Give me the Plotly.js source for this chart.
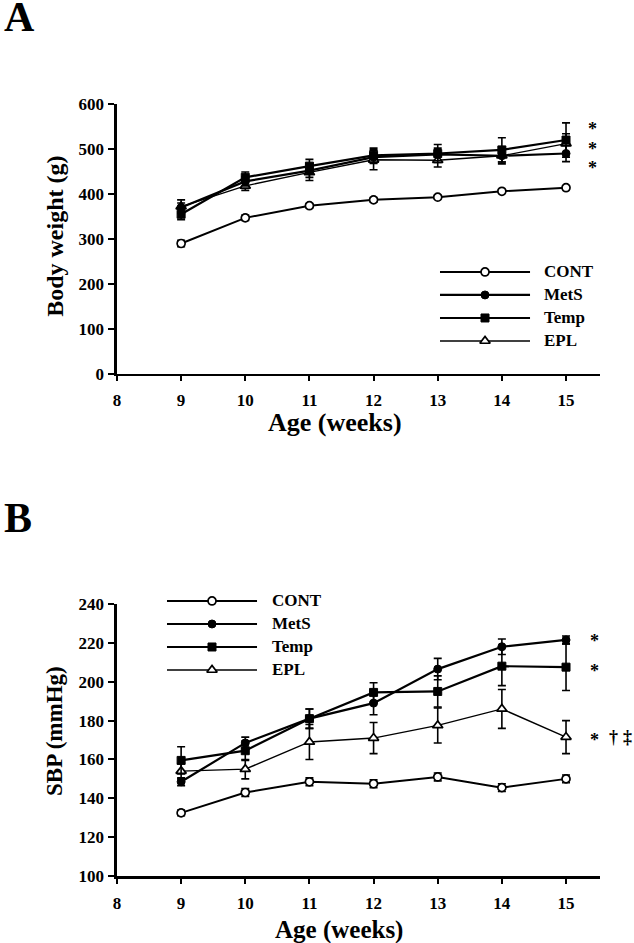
<!DOCTYPE html>
<html>
<head>
<meta charset="utf-8">
<script src="https://cdn.plot.ly/plotly-3.0.1.min.js"></script>
<style>
  html, body { margin: 0; padding: 0; background: #fff; }
  #plot { width: 634px; height: 943px; }
</style>
</head>
<body>
<div id="plot"></div>
<script>
// semanas de edad
var weeks = [9, 10, 11, 12, 13, 14, 15];
var xTicks = [8, 9, 10, 11, 12, 13, 14, 15];
var bwTicks = [0, 100, 200, 300, 400, 500, 600];
var sbpTicks = [100, 120, 140, 160, 180, 200, 220, 240];

// Panel A: peso corporal (g)
var bwCont = [290, 347, 374, 387, 393, 406, 414];
var bwContErr = [7, 6, 5, 5, 4, 4, 4];
var bwMets = [370, 428, 452, 482, 488, 485, 490];
var bwMetsErr = [10, 10, 15, 14, 14, 14, 18];
var bwTemp = [355, 437, 462, 486, 490, 498, 520];
var bwTempErr = [12, 12, 15, 16, 20, 27, 38];
var bwEpl = [372, 418, 448, 476, 475, 485, 512];
var bwEplErr = [15, 10, 18, 22, 15, 18, 22];

// Panel B: SBP (mmHg)
var sbpCont = [132.5, 143, 148.5, 147.5, 151, 145.5, 150];
var sbpContErr = [1.5, 2, 2, 2, 2, 2, 2];
var sbpMets = [148.5, 168.5, 181, 189, 206.5, 218, 221.5];
var sbpMetsErr = [2, 3, 5, 6, 5.5, 4, 2];
var sbpTemp = [159.5, 164.5, 181, 194.5, 195, 208, 207.5];
var sbpTempErr = [7, 5, 5, 5, 8, 10, 12];
var sbpEpl = [154, 155, 169, 171, 177.5, 186, 171.5];
var sbpEplErr = [4, 5, 9, 8, 9, 10, 8.5];

var groups = ['CONT', 'MetS', 'Temp', 'EPL'];
var legendRows = [0, 1, 2, 3];
var legendX = [0, 0.5, 1];

var FONT = 'Liberation Serif, Times New Roman, serif';

var estilos = {
    CONT: { marker: { symbol: 'circle', size: 8, color: '#fff', line: { color: '#000', width: 1.7 } }, line: { color: '#000', width: 2 } },
    MetS: { marker: { symbol: 'circle', size: 8, color: '#000', line: { color: '#000', width: 1 } }, line: { color: '#000', width: 2.2 } },
    Temp: { marker: { symbol: 'square', size: 8, color: '#000', line: { color: '#000', width: 1 } }, line: { color: '#000', width: 2.2 } },
    EPL:  { marker: { symbol: 'triangle-up', size: 9, color: '#fff', line: { color: '#000', width: 1.7 } }, line: { color: '#000', width: 1.4 } }
};

function serie(nombre, y, err, xa, ya) {
    return {
        x: weeks, y: y, name: nombre, type: 'scatter', mode: 'lines+markers',
        xaxis: xa, yaxis: ya, showlegend: false, cliponaxis: false,
        line: estilos[nombre].line, marker: estilos[nombre].marker,
        error_y: { type: 'data', array: err, visible: true, color: '#000', thickness: 1.6, width: 4 }
    };
}

// muestra de leyenda: linea + marcador central
function leyenda(nombre, fila, xa, ya) {
    return [{
        x: legendX, y: [fila, fila, fila], type: 'scatter', mode: 'lines',
        xaxis: xa, yaxis: ya, showlegend: false, hoverinfo: 'skip',
        line: estilos[nombre].line
    }, {
        x: [legendX[1]], y: [fila], type: 'scatter', mode: 'markers',
        xaxis: xa, yaxis: ya, showlegend: false, hoverinfo: 'skip',
        marker: estilos[nombre].marker
    }];
}

var data = [
    serie('EPL', bwEpl, bwEplErr, 'x', 'y'),
    serie('MetS', bwMets, bwMetsErr, 'x', 'y'),
    serie('Temp', bwTemp, bwTempErr, 'x', 'y'),
    serie('CONT', bwCont, bwContErr, 'x', 'y'),
    serie('EPL', sbpEpl, sbpEplErr, 'x2', 'y2'),
    serie('MetS', sbpMets, sbpMetsErr, 'x2', 'y2'),
    serie('Temp', sbpTemp, sbpTempErr, 'x2', 'y2'),
    serie('CONT', sbpCont, sbpContErr, 'x2', 'y2')
];
groups.forEach(function (g, i) {
    data = data.concat(leyenda(g, legendRows[i], 'x3', 'y3'));
    data = data.concat(leyenda(g, legendRows[i], 'x4', 'y4'));
});

var tickFont = { family: FONT, size: 17, color: '#000', weight: 'bold' };
var negrita = function (v) { return '<b>' + v + '</b>'; };

function ejeX(anchor, standoff) {
    return {
        domain: [0.1845, 0.9464], range: [8, 15.53], anchor: anchor,
        tickvals: xTicks, ticktext: xTicks.map(negrita),
        showline: true, linecolor: '#000', linewidth: 2.5,
        ticks: 'outside', ticklen: 5, tickwidth: 2, tickcolor: '#000',
        ticklabelstandoff: standoff,
        showgrid: false, zeroline: false, tickfont: tickFont, fixedrange: true
    };
}
function ejeY(anchor, dominio, rango, valores) {
    return {
        domain: dominio, range: rango, anchor: anchor,
        tickvals: valores, ticktext: valores.map(negrita),
        showline: true, linecolor: '#000', linewidth: 2.5,
        ticks: 'outside', ticklen: 6, tickwidth: 2, tickcolor: '#000',
        ticklabelstandoff: 1,
        showgrid: false, zeroline: false, tickfont: tickFont, fixedrange: true
    };
}
var oculto = function (dominio, rango) {
    return { domain: dominio, range: rango, visible: false, fixedrange: true };
};

var annotations = [];
function texto(t, x, y, xref, yref, size, extra) {
    annotations.push(Object.assign({
        text: t, x: x, y: y, xref: xref, yref: yref, showarrow: false,
        xanchor: 'center', yanchor: 'middle',
        font: { family: FONT, size: size, color: '#000', weight: 'bold' }
    }, extra || {}));
}

// letras de panel
texto('A', 0.003, 0.982, 'paper', 'paper', 42, { xanchor: 'left' });
texto('B', 0.003, 0.451, 'paper', 'paper', 42, { xanchor: 'left' });
// titulos de ejes
texto('Body weight (g)', 0.087, 0.749, 'paper', 'paper', 24, { textangle: -90 });
texto('Age (weeks)', 0.528, 0.552, 'paper', 'paper', 26);
texto('SBP (mmHg)', 0.087, 0.225, 'paper', 'paper', 23, { textangle: -90 });
texto('Age (weeks)', 0.535, 0.0135, 'paper', 'paper', 25);
// leyendas
groups.forEach(function (g, i) {
    texto(g, 0.8550, legendRows[i], 'paper', 'y3', 17, { xanchor: 'left' });
    texto(g, 0.4259, legendRows[i], 'paper', 'y4', 17, { xanchor: 'left' });
});
// significancia
[551, 507, 464].forEach(function (v) {
    texto('*', 15.42, v, 'x', 'y', 18, { yshift: -3 });
});
[222.5, 207, 171.5].forEach(function (v) {
    texto('*', 15.45, v, 'x2', 'y2', 18, { yshift: -3 });
});
texto('\u2020', 0.9669, 171.5, 'paper', 'y2', 18);
texto('\u2021', 0.9905, 171.5, 'paper', 'y2', 18);

var layout = {
    width: 634, height: 943,
    margin: { l: 0, r: 0, t: 0, b: 0 },
    paper_bgcolor: '#fff', plot_bgcolor: 'rgba(0,0,0,0)',
    font: { family: FONT, color: '#000' },
    showlegend: false,
    xaxis: ejeX('y', 4),
    yaxis: ejeY('x', [0.6034, 0.8897], [0, 600], bwTicks),
    xaxis2: ejeX('y2', 5),
    yaxis2: ejeY('x2', [0.0710, 0.3595], [100, 240], sbpTicks),
    xaxis3: oculto([0.6869, 0.8431], [-0.05, 1.05]),
    yaxis3: oculto([0.6262, 0.7238], [3.5, -0.5]),
    xaxis4: oculto([0.2563, 0.4125], [-0.05, 1.05]),
    yaxis4: oculto([0.2773, 0.3749], [3.5, -0.5]),
    annotations: annotations
};

Plotly.newPlot('plot', data, layout, { displayModeBar: false, staticPlot: true });
</script>
</body>
</html>
